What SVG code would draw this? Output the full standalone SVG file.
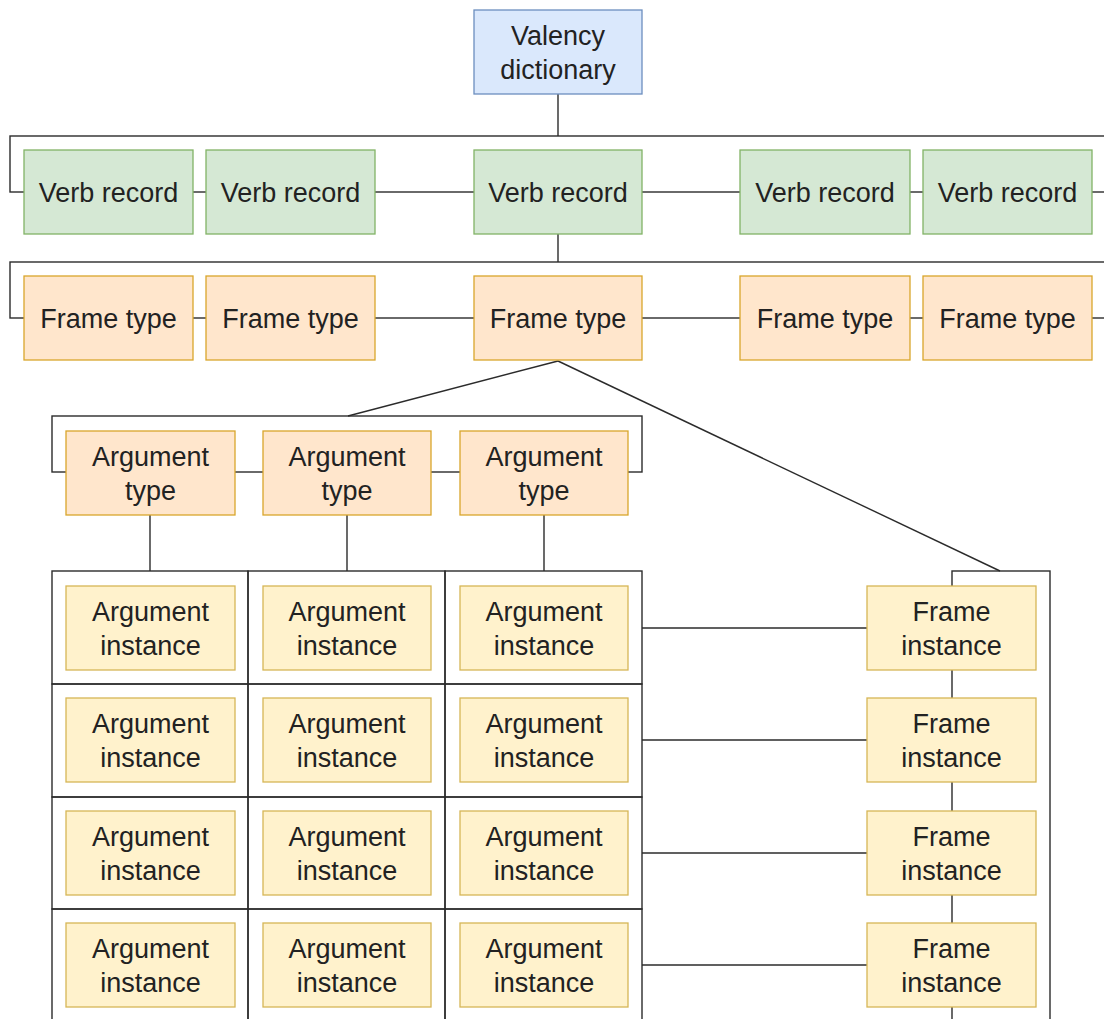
<svg xmlns="http://www.w3.org/2000/svg" width="1104" height="1019" viewBox="0 0 1104 1019">
  <style>
    .wire { fill: none; stroke: #2b2b2b; stroke-width: 1.4; }
    .box { stroke-width: 1.3; }
    .blue { fill: #dae8fc; stroke: #6c8ebf; }
    .green { fill: #d5e8d4; stroke: #82b366; }
    .orange { fill: #ffe6cc; stroke: #d9a62c; }
    .yellow { fill: #fff2cc; stroke: #d6b656; }
    text { font-family: "Liberation Sans", Arial, Helvetica, sans-serif; font-size: 27px; fill: #222; text-anchor: middle; }
  </style>
  <rect width="1104" height="1019" fill="#ffffff"/>

  <!-- connectors and grouping frames -->
  <g id="connectors" class="wire">
    <line x1="558" y1="94" x2="558" y2="136"/>
    <rect x="10" y="136" width="1110" height="56"/>
    <line x1="558" y1="234" x2="558" y2="262"/>
    <rect x="10" y="262" width="1110" height="56"/>
    <line x1="558" y1="361" x2="348" y2="416"/>
    <line x1="558" y1="361" x2="1000" y2="571"/>
    <rect x="52" y="416" width="590" height="56"/>
    <line x1="150" y1="515" x2="150" y2="571"/>
    <line x1="347" y1="515" x2="347" y2="571"/>
    <line x1="544" y1="515" x2="544" y2="571"/>
    <!-- argument instance table -->
    <rect x="52" y="571" width="196" height="113"/>
    <rect x="248" y="571" width="197" height="113"/>
    <rect x="445" y="571" width="197" height="113"/>
    <rect x="52" y="684" width="196" height="113"/>
    <rect x="248" y="684" width="197" height="113"/>
    <rect x="445" y="684" width="197" height="113"/>
    <rect x="52" y="797" width="196" height="112"/>
    <rect x="248" y="797" width="197" height="112"/>
    <rect x="445" y="797" width="197" height="112"/>
    <rect x="52" y="909" width="196" height="130"/>
    <rect x="248" y="909" width="197" height="130"/>
    <rect x="445" y="909" width="197" height="130"/>
    <!-- frame instance column -->
    <rect x="952" y="571" width="98" height="470"/>
    <line x1="642" y1="628" x2="867" y2="628"/>
    <line x1="642" y1="740" x2="867" y2="740"/>
    <line x1="642" y1="853" x2="867" y2="853"/>
    <line x1="642" y1="965" x2="867" y2="965"/>
  </g>

  <g id="valency-dictionary">
    <rect class="box blue" x="474" y="10" width="168" height="84"/>
    <text x="558" y="45">Valency</text>
    <text x="558" y="79">dictionary</text>
  </g>

  <g id="verb-record-1"><rect class="box green" x="24" y="150" width="169" height="84"/><text x="108.5" y="202">Verb record</text></g>
  <g id="verb-record-2"><rect class="box green" x="206" y="150" width="169" height="84"/><text x="290.5" y="202">Verb record</text></g>
  <g id="verb-record-3"><rect class="box green" x="474" y="150" width="168" height="84"/><text x="558" y="202">Verb record</text></g>
  <g id="verb-record-4"><rect class="box green" x="740" y="150" width="170" height="84"/><text x="825" y="202">Verb record</text></g>
  <g id="verb-record-5"><rect class="box green" x="923" y="150" width="169" height="84"/><text x="1007.5" y="202">Verb record</text></g>

  <g id="frame-type-1"><rect class="box orange" x="24" y="276" width="169" height="84"/><text x="108.5" y="328">Frame type</text></g>
  <g id="frame-type-2"><rect class="box orange" x="206" y="276" width="169" height="84"/><text x="290.5" y="328">Frame type</text></g>
  <g id="frame-type-3"><rect class="box orange" x="474" y="276" width="168" height="84"/><text x="558" y="328">Frame type</text></g>
  <g id="frame-type-4"><rect class="box orange" x="740" y="276" width="170" height="84"/><text x="825" y="328">Frame type</text></g>
  <g id="frame-type-5"><rect class="box orange" x="923" y="276" width="169" height="84"/><text x="1007.5" y="328">Frame type</text></g>

  <g id="argument-type-1"><rect class="box orange" x="66" y="431" width="169" height="84"/><text x="150.5" y="466">Argument</text><text x="150.5" y="500">type</text></g>
  <g id="argument-type-2"><rect class="box orange" x="263" y="431" width="168" height="84"/><text x="347" y="466">Argument</text><text x="347" y="500">type</text></g>
  <g id="argument-type-3"><rect class="box orange" x="460" y="431" width="168" height="84"/><text x="544" y="466">Argument</text><text x="544" y="500">type</text></g>

  <!-- argument instances, row by row -->
  <g id="argument-instance-1-1"><rect class="box yellow" x="66" y="586" width="169" height="84"/><text x="150.5" y="621">Argument</text><text x="150.5" y="655">instance</text></g>
  <g id="argument-instance-1-2"><rect class="box yellow" x="263" y="586" width="168" height="84"/><text x="347" y="621">Argument</text><text x="347" y="655">instance</text></g>
  <g id="argument-instance-1-3"><rect class="box yellow" x="460" y="586" width="168" height="84"/><text x="544" y="621">Argument</text><text x="544" y="655">instance</text></g>

  <g id="argument-instance-2-1"><rect class="box yellow" x="66" y="698" width="169" height="84"/><text x="150.5" y="733">Argument</text><text x="150.5" y="767">instance</text></g>
  <g id="argument-instance-2-2"><rect class="box yellow" x="263" y="698" width="168" height="84"/><text x="347" y="733">Argument</text><text x="347" y="767">instance</text></g>
  <g id="argument-instance-2-3"><rect class="box yellow" x="460" y="698" width="168" height="84"/><text x="544" y="733">Argument</text><text x="544" y="767">instance</text></g>

  <g id="argument-instance-3-1"><rect class="box yellow" x="66" y="811" width="169" height="84"/><text x="150.5" y="846">Argument</text><text x="150.5" y="880">instance</text></g>
  <g id="argument-instance-3-2"><rect class="box yellow" x="263" y="811" width="168" height="84"/><text x="347" y="846">Argument</text><text x="347" y="880">instance</text></g>
  <g id="argument-instance-3-3"><rect class="box yellow" x="460" y="811" width="168" height="84"/><text x="544" y="846">Argument</text><text x="544" y="880">instance</text></g>

  <g id="argument-instance-4-1"><rect class="box yellow" x="66" y="923" width="169" height="84"/><text x="150.5" y="958">Argument</text><text x="150.5" y="992">instance</text></g>
  <g id="argument-instance-4-2"><rect class="box yellow" x="263" y="923" width="168" height="84"/><text x="347" y="958">Argument</text><text x="347" y="992">instance</text></g>
  <g id="argument-instance-4-3"><rect class="box yellow" x="460" y="923" width="168" height="84"/><text x="544" y="958">Argument</text><text x="544" y="992">instance</text></g>

  <g id="frame-instance-1"><rect class="box yellow" x="867" y="586" width="169" height="84"/><text x="951.5" y="621">Frame</text><text x="951.5" y="655">instance</text></g>
  <g id="frame-instance-2"><rect class="box yellow" x="867" y="698" width="169" height="84"/><text x="951.5" y="733">Frame</text><text x="951.5" y="767">instance</text></g>
  <g id="frame-instance-3"><rect class="box yellow" x="867" y="811" width="169" height="84"/><text x="951.5" y="846">Frame</text><text x="951.5" y="880">instance</text></g>
  <g id="frame-instance-4"><rect class="box yellow" x="867" y="923" width="169" height="84"/><text x="951.5" y="958">Frame</text><text x="951.5" y="992">instance</text></g>
</svg>
